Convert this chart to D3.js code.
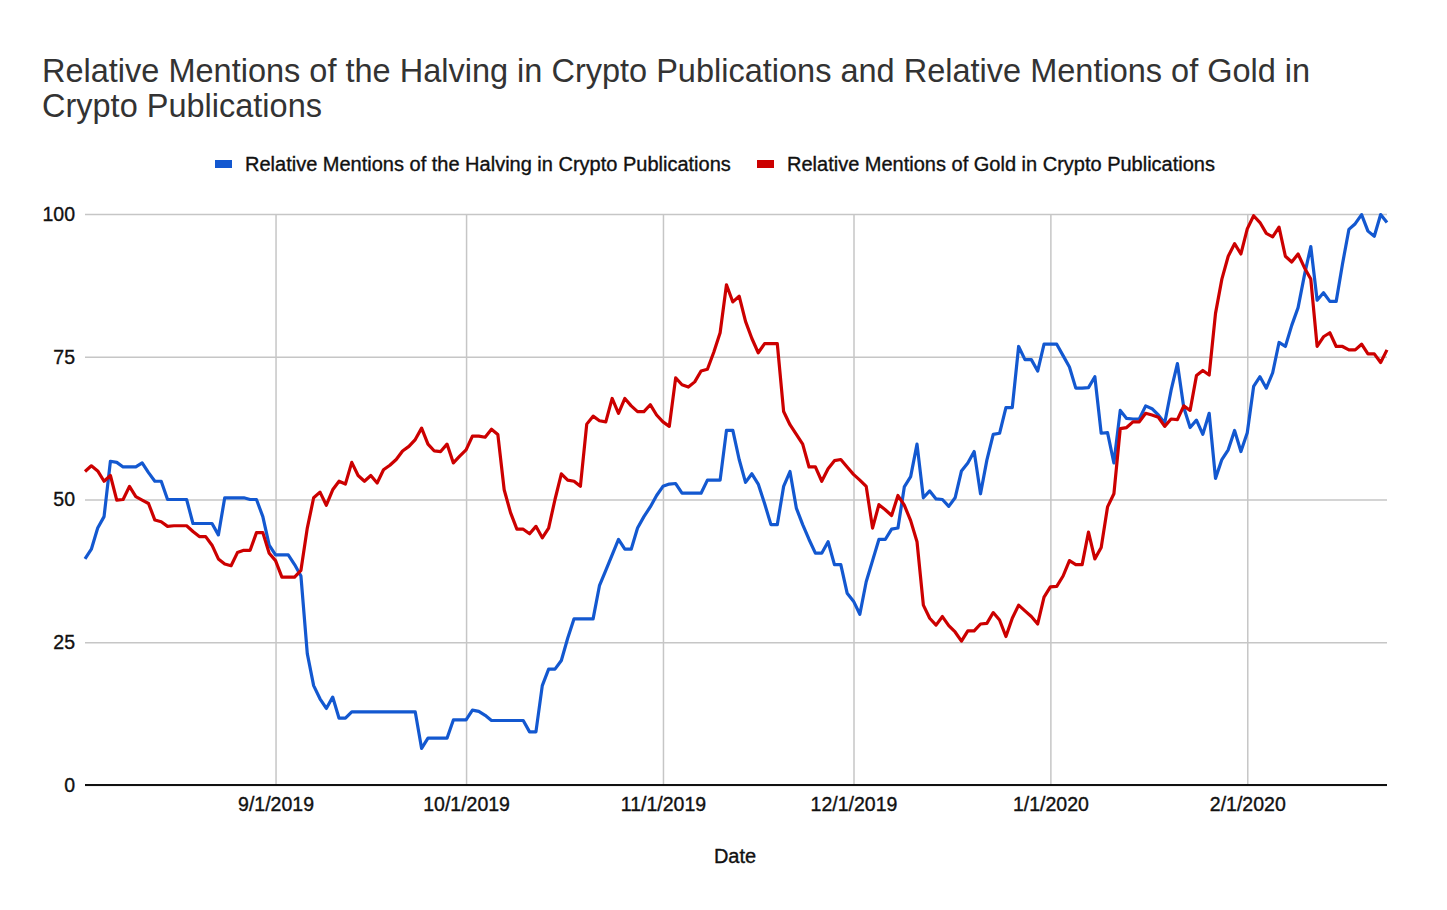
<!DOCTYPE html>
<html>
<head>
<meta charset="utf-8">
<script src="https://cdn.jsdelivr.net/npm/d3@7"></script>
<style>
  body { margin: 0; background: #fff; }
  text { font-family: "Liberation Sans", Arial, sans-serif; }
</style>
</head>
<body>
<div id="graph" style="width:1447px;height:910px"></div>
<script>
// daily series, first value is 8/2/2019
const start_day = "2019-08-02";
const halving = [
  39.6, 41.3, 45, 47, 56.7, 56.5, 55.7, 55.7, 55.7, 56.4,
  54.7, 53.2, 53.2, 50, 50, 50, 50, 45.8, 45.8, 45.8,
  45.8, 43.8, 50.3, 50.3, 50.3, 50.3, 50, 50, 47, 42,
  40.3, 40.3, 40.3, 38.6, 36.6, 23, 17.4, 15.1, 13.4, 15.4,
  11.7, 11.7, 12.8, 12.8, 12.8, 12.8, 12.8, 12.8, 12.8, 12.8,
  12.8, 12.8, 12.8, 6.4, 8.2, 8.2, 8.2, 8.2, 11.4, 11.4,
  11.4, 13.1, 12.9, 12.2, 11.3, 11.3, 11.3, 11.3, 11.3, 11.3,
  9.3, 9.3, 17.4, 20.3, 20.3, 21.8, 25.7, 29.1, 29.1, 29.1,
  29.1, 34.9, 37.6, 40.3, 43, 41.3, 41.3, 45, 47, 48.7,
  50.7, 52.3, 52.7, 52.8, 51.1, 51.1, 51.1, 51.1, 53.4, 53.4,
  53.4, 62.1, 62.1, 57, 53, 54.5, 52.7, 49.3, 45.6, 45.6,
  52.3, 54.9, 48.5, 45.6, 43, 40.6, 40.6, 42.6, 38.6, 38.6,
  33.6, 32.2, 29.9, 35.6, 39.3, 43, 43, 44.8, 45, 52.2,
  54, 59.7, 50.3, 51.5, 50.1, 50, 48.8, 50.3, 55, 56.4,
  58.4, 51, 56.9, 61.4, 61.6, 66.1, 66.1, 76.8, 74.5, 74.5,
  72.5, 77.2, 77.2, 77.2, 75.2, 73.2, 69.5, 69.5, 69.6, 71.5,
  61.6, 61.7, 56.4, 65.6, 64.2, 64.1, 64.1, 66.4, 65.9, 64.8,
  63.4, 69.1, 73.8, 66.1, 62.6, 63.9, 61.4, 65.1, 53.7, 57,
  58.7, 62.1, 58.4, 61.7, 69.8, 71.5, 69.5, 72.2, 77.5, 76.8,
  80.5, 83.6, 89.3, 94.3, 84.9, 86.2, 84.7, 84.7, 91.3, 97.3,
  98.3, 99.9, 97, 96.1, 99.9, 98.5
];
const gold = [
  54.9, 55.9, 55, 53.2, 54.2, 49.9, 50, 52.3, 50.5, 49.9,
  49.3, 46.4, 46.1, 45.3, 45.4, 45.4, 45.4, 44.4, 43.5, 43.5,
  42, 39.6, 38.7, 38.4, 40.7, 41.1, 41.1, 44.2, 44.2, 40.6,
  39.3, 36.4, 36.4, 36.4, 37.6, 45, 50.3, 51.3, 49, 51.7,
  53.2, 52.7, 56.5, 54.2, 53.2, 54.2, 52.9, 55.2, 56, 57,
  58.5, 59.3, 60.5, 62.5, 59.7, 58.5, 58.4, 59.7, 56.4, 57.6,
  58.7, 61.1, 61.1, 60.9, 62.3, 61.4, 51.7, 47.7, 44.8, 44.8,
  44, 45.3, 43.3, 45, 50, 54.5, 53.4, 53.2, 52.3, 63.2,
  64.6, 63.8, 63.6, 67.7, 65.1, 67.7, 66.4, 65.4, 65.4, 66.6,
  64.8, 63.6, 62.8, 71.3, 70.1, 69.7, 70.6, 72.5, 72.8, 75.8,
  79.2, 87.6, 84.6, 85.6, 81.2, 78.2, 75.7, 77.3, 77.3, 77.3,
  65.4, 63.1, 61.4, 59.7, 55.7, 55.7, 53.2, 55.4, 56.8, 57,
  55.7, 54.4, 53.4, 52.3, 45, 49.1, 48.2, 47.2, 50.7, 49,
  46.3, 42.6, 31.5, 29.2, 28, 29.5, 27.9, 26.8, 25.2, 27,
  27, 28.2, 28.3, 30.2, 28.9, 26, 29.2, 31.5, 30.5, 29.5,
  28.2, 32.9, 34.7, 34.8, 36.6, 39.3, 38.6, 38.6, 44.3, 39.6,
  41.6, 48.7, 51, 62.4, 62.6, 63.6, 63.6, 65.1, 64.8, 64.4,
  62.8, 64.1, 64, 66.4, 65.6, 71.7, 72.6, 71.8, 82.6, 88.6,
  92.6, 94.8, 93, 97.4, 99.7, 98.5, 96.6, 96, 97.7, 92.6,
  91.6, 93, 90.6, 88.6, 76.8, 78.5, 79.2, 76.8, 76.8, 76.2,
  76.2, 77.2, 75.5, 75.5, 74, 76.2
];
const series_names = [
  "Relative Mentions of the Halving in Crypto Publications",
  "Relative Mentions of Gold in Crypto Publications"
];
const y_ticks = [0, 25, 50, 75, 100];
const x_ticks = ["2019-09-01", "2019-10-01", "2019-11-01", "2019-12-01", "2020-01-01", "2020-02-01"];

const colors = ["#1358d0", "#cc0000"];
const width = 1447, height = 910;
const plot = {left: 85, right: 1387, top: 214, bottom: 785};

const parse = d3.utcParse("%Y-%m-%d");
const day0 = parse(start_day);
const dates = halving.map((v, i) => d3.utcDay.offset(day0, i));

const svg = d3.select("#graph").append("svg")
  .attr("width", width)
  .attr("height", height);

const x = d3.scaleUtc()
  .domain([dates[0], dates[dates.length - 1]])
  .range([plot.left, plot.right]);

const y = d3.scaleLinear()
  .domain([0, 100])
  .range([plot.bottom, plot.top]);

// title, two lines like the original
const title = svg.append("text")
  .attr("x", 42)
  .attr("y", 82)
  .attr("font-size", 32.5)
  .attr("fill", "#333");
title.append("tspan").text("Relative Mentions of the Halving in Crypto Publications and Relative Mentions of Gold in");
title.append("tspan").attr("x", 42).attr("dy", 35).text("Crypto Publications");

// legend
const legend_x = [215, 757];
series_names.forEach((name, i) => {
  const g = svg.append("g").attr("transform", `translate(${legend_x[i]}, 164)`);
  g.append("rect").attr("x", 0).attr("y", -4).attr("width", 17).attr("height", 8).attr("fill", colors[i]);
  g.append("text").attr("x", 30).attr("y", 7)
    .attr("font-size", 20).attr("fill", "#111")
    .attr("stroke", "#111").attr("stroke-width", 0.35)
    .text(name);
});

// horizontal grid + y labels
const y_axis = svg.append("g")
  .attr("transform", `translate(${plot.left},0)`)
  .call(d3.axisLeft(y).tickValues(y_ticks).tickSize(-(plot.right - plot.left)).tickPadding(10));
y_axis.select(".domain").remove();
y_axis.selectAll(".tick line").attr("stroke", "#c6c6c6").attr("stroke-width", 1.5);
y_axis.selectAll(".tick text")
  .attr("font-size", 19.5)
  .attr("fill", "#111")
  .attr("stroke", "#111").attr("stroke-width", 0.35)
  .attr("font-family", "Liberation Sans, Arial, sans-serif");

// vertical grid + x labels
const x_axis = svg.append("g")
  .attr("transform", `translate(0,${plot.bottom})`)
  .call(d3.axisBottom(x)
    .tickValues(x_ticks.map(parse))
    .tickFormat(d3.utcFormat("%-m/%-d/%Y"))
    .tickSize(-(plot.bottom - plot.top))
    .tickPadding(12));
x_axis.select(".domain").remove();
x_axis.selectAll(".tick line").attr("stroke", "#c6c6c6").attr("stroke-width", 1.5);
x_axis.selectAll(".tick text")
  .attr("font-size", 19.5)
  .attr("fill", "#111")
  .attr("stroke", "#111").attr("stroke-width", 0.35)
  .attr("font-family", "Liberation Sans, Arial, sans-serif");

// baseline
svg.append("line")
  .attr("x1", plot.left).attr("x2", plot.right)
  .attr("y1", y(0)).attr("y2", y(0))
  .attr("stroke", "#111").attr("stroke-width", 2);

// axis title
svg.append("text")
  .attr("x", 735)
  .attr("y", 863)
  .attr("text-anchor", "middle")
  .attr("font-size", 20)
  .attr("fill", "#111")
  .attr("stroke", "#111").attr("stroke-width", 0.35)
  .text("Date");

// lines
const line = d3.line()
  .x((d, i) => x(dates[i]))
  .y(d => y(d));

[halving, gold].forEach((s, i) => {
  svg.append("path")
    .datum(s)
    .attr("fill", "none")
    .attr("stroke", colors[i])
    .attr("stroke-width", 3.2)
    .attr("stroke-linejoin", "round")
    .attr("d", line);
});
</script>
</body>
</html>
